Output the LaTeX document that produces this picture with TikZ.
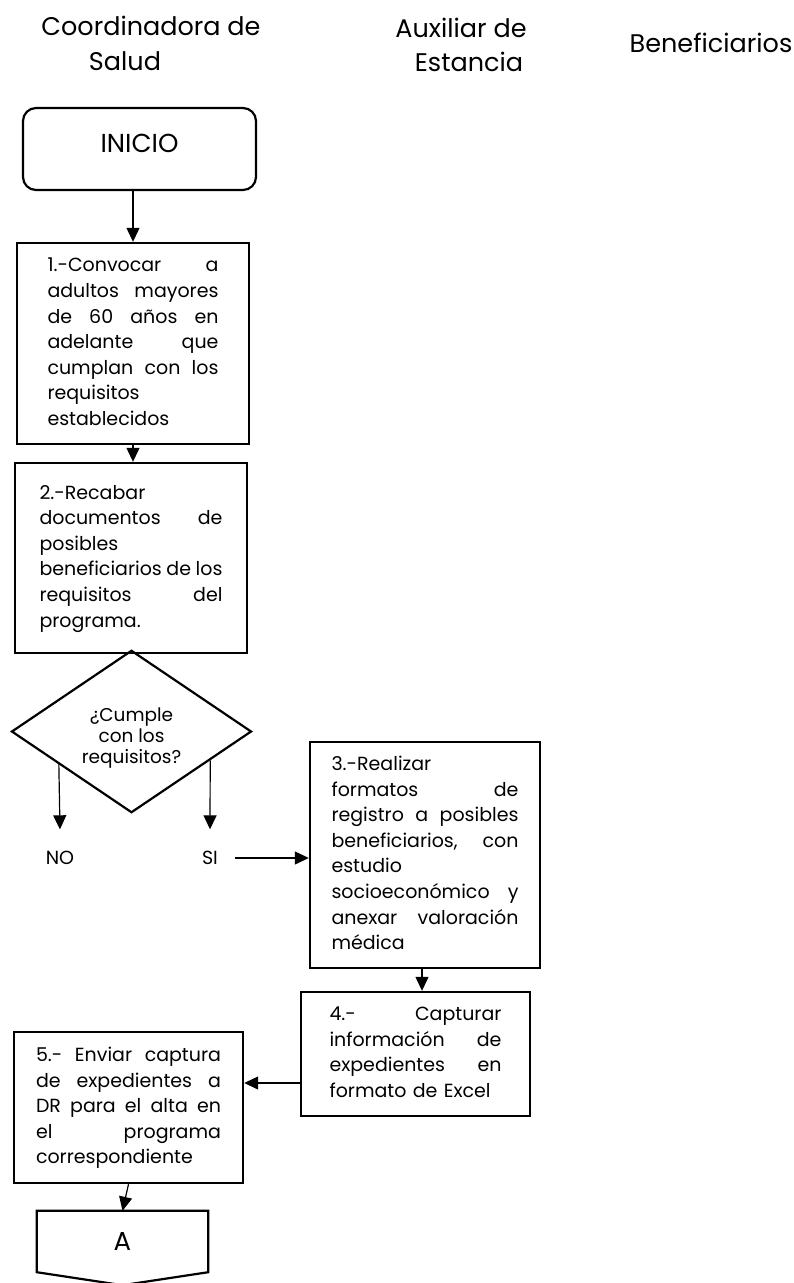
\documentclass[tikz,border=0pt]{standalone}
\usepackage{fontspec}
\setmainfont{Poppins}
\usetikzlibrary{arrows.meta,calc,shapes.geometric}
\newcommand\bodyfnt{\fontsize{19}{25.6}\selectfont}
\newcommand\titlefnt{\fontsize{25.5}{30}\selectfont}
\newcommand\decfnt{\fontsize{18.5}{21}\selectfont}
\begin{document}
\begin{tikzpicture}[x=1pt,y=-1pt,
  box/.style={draw,line width=2.4pt,rectangle,inner sep=0pt,align=left,font=\bodyfnt},
  arr/.style={line width=1.2pt,-{Triangle[width=13pt,length=14pt]}},
  ttl/.style={font=\titlefnt,anchor=base,inner sep=0pt},
  lbl/.style={font=\bodyfnt,inner sep=0pt,text height=13pt,text depth=0pt},
]
\useasboundingbox (0,0) rectangle (794,1283);
% titles
\node[ttl] (t1) at (151,35) {Coordinadora de};
\node[ttl] (t2) at (125,70) {Salud};
\node[ttl] (t3) at (461,37) {Auxiliar de};
\node[ttl] (t4) at (469,71) {Estancia};
\node[ttl] (t5) at (711,52) {Beneficiarios};
% start
\node[draw,rounded corners=13pt,line width=2.2pt,minimum width=233pt,minimum height=82pt,inner sep=0pt,font=\fontsize{26}{30}\selectfont] (ini) at (139.5,149) {\raisebox{6pt}[\height][\depth]{INICIO}};
% boxes
\node[box,minimum width=232pt,minimum height=201pt,text width=171pt] (b1) at (133,343.5) {\strut 1.-Convocar\hfill a\\
adultos\hfill mayores\\
de\hfill 60\hfill años\hfill en\\
adelante\hfill que\\
cumplan\hfill con\hfill los\\
requisitos\\
establecidos\strut};
\node[box,minimum width=232pt,minimum height=190pt,text width=183pt] (b2) at (131,558) {\strut 2.-Recabar\\
documentos\hfill de\\
posibles\\
beneficiarios\hfill de\hfill los\\
requisitos\hfill del\\
programa.\strut};
\node[draw,diamond,line width=2.2pt,minimum width=240pt,minimum height=158pt,inner sep=0pt,font=\decfnt] (dec) at (131.5,731.5) {\raisebox{-7pt}[\height][\depth]{\begin{tabular}{@{}c@{}}¿Cumple\\con los\\requisitos?\end{tabular}}};
\node[lbl] (no) at (60,858) {NO};
\node[lbl] (si) at (210,858) {SI};
\node[box,minimum width=230pt,minimum height=226pt,text width=187pt] (b3) at (425,855) {\strut 3.-Realizar\\
formatos\hfill de\\
registro\hfill a\hfill posibles\\
beneficiarios,\hfill con\\
estudio\\
socioeconómico\hfill y\\
anexar\hfill valoración\\
médica\strut};
\node[box,minimum width=229pt,minimum height=124pt,text width=172pt] (b4) at (415.5,1054) {\strut 4.-\hfill Capturar\\
información\hfill de\\
expedientes\hfill en\\
formato de Excel\strut};
\node[box,minimum width=229pt,minimum height=151pt,text width=185pt] (b5) at (128.5,1107.5) {\strut 5.-\hfill Enviar\hfill captura\\
de\hfill expedientes\hfill a\\
DR\hfill para\hfill el\hfill alta\hfill en\\
el\hfill programa\\
correspondiente\strut};
\node[minimum width=171pt,minimum height=61pt,inner sep=0pt,font=\fontsize{26}{28}\selectfont] (offA) at (122.5,1241.5) {A};
\draw[line width=2.2pt,line join=miter] (offA.north west) -- (offA.south west) -- ($(offA.south)+(0,13)$) -- (offA.south east) -- (offA.north east) -- cycle;
% connectors
\coordinate (c45) at ($(b4.west)+(0,29)$);
\draw[arr] (ini.south -| b1.north) -- (b1.north);
\draw[arr] (b1.south) -- (b1.south |- b2.north);
\draw[arr] ($(dec.west)!0.4!(dec.south)$) -- ($(no.north)+(0,-22)$);
\draw[arr] ($(dec.east)!0.35!(dec.south)$) -- ($(si.north)+(0,-22)$);
\draw[arr,shorten <=17pt] (si.east) -- (si.east -| b3.west);
\draw[arr] ([xshift=-3pt]b3.south) -- ([xshift=-3pt]b3.south |- b4.north);
\draw[arr] (c45) -- (c45 -| b5.east);
\draw[arr] (b5.south) -- (offA.north);
\end{tikzpicture}
\end{document}
